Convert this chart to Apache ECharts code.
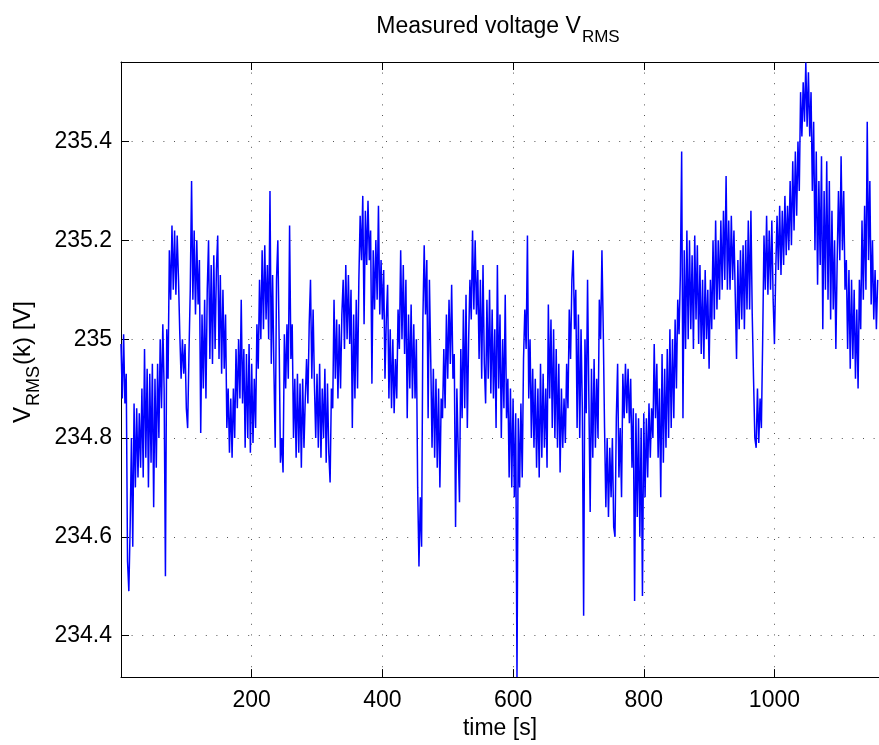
<!DOCTYPE html>
<html>
<head>
<meta charset="utf-8">
<script src="https://cdn.jsdelivr.net/npm/echarts@6/dist/echarts.min.js"></script>
<style>
html,body{margin:0;padding:0;background:#fff;}
#chart{width:879px;height:745px;}
</style>
</head>
<body>
<div id="chart"></div>
<script>
// Sampling step of the trace (seconds)
const stepSeconds = 2;
// Measured RMS voltage samples [V] (one per stepSeconds, from t = 0)
const voltage = [
 234.99,234.88,235.01,234.87,234.93,234.55,234.49,234.62,234.80,234.58,234.87,234.70,234.86,234.72,234.85,
 234.74,234.90,234.72,234.98,234.76,234.94,234.70,234.93,234.75,234.95,234.66,234.92,234.74,234.95,234.80,
 235.00,234.86,235.03,234.90,234.52,235.02,234.92,235.18,235.08,235.23,235.10,235.22,235.09,235.21,235.12,
 235.01,234.92,235.00,234.93,234.99,234.86,234.82,234.97,235.10,235.32,235.08,235.22,235.05,235.20,235.07,
 235.16,234.81,235.05,234.90,235.08,234.88,235.10,235.20,234.96,235.15,234.95,235.17,234.98,235.14,235.21,
 234.96,235.13,234.93,235.10,234.94,235.05,234.82,234.90,234.77,234.88,234.76,234.90,234.80,234.98,234.86,
 235.00,234.88,235.08,234.87,234.98,234.78,234.97,234.80,234.99,234.77,234.95,234.79,234.92,234.82,235.03,
 234.94,235.12,235.00,235.18,235.02,235.19,235.04,235.15,235.00,235.30,234.95,235.13,234.94,234.78,235.12,
 235.20,235.00,234.75,234.80,234.73,235.01,234.90,235.03,234.92,235.23,234.96,235.03,234.80,234.92,234.76,
 234.93,234.77,234.91,234.74,234.92,234.78,234.88,234.96,234.87,235.03,235.12,234.92,235.06,234.91,234.80,
 234.93,234.78,234.95,234.76,234.90,234.80,234.94,234.75,234.91,234.77,234.71,234.90,234.86,235.08,234.92,
 235.04,234.88,235.03,234.90,235.05,235.12,234.98,235.15,235.00,235.13,234.99,235.10,234.82,235.05,234.88,
 235.08,234.90,235.12,235.25,235.16,235.29,235.03,235.26,235.15,235.28,235.16,235.22,234.91,235.18,235.06,
 235.20,235.08,235.27,235.05,235.16,235.04,235.14,234.92,235.04,235.11,234.88,235.02,234.86,235.00,234.85,
 234.96,234.88,235.06,234.98,235.18,235.00,235.15,234.97,235.12,234.84,235.05,234.90,235.07,234.88,235.03,
 234.88,235.00,234.70,234.54,234.68,234.58,235.04,235.19,235.05,235.16,234.84,235.12,234.96,234.78,234.94,
 234.76,234.92,234.74,234.90,234.70,234.88,234.84,234.98,234.86,235.05,234.92,235.08,234.95,235.11,234.92,
 234.97,234.62,234.90,234.78,234.67,234.98,234.84,235.06,234.86,235.09,234.82,235.00,235.12,235.04,235.22,
 235.06,235.20,235.05,235.14,234.96,235.12,234.92,235.15,234.95,234.87,235.08,234.92,235.10,234.89,235.06,
 234.88,235.02,234.82,235.15,234.90,235.05,234.80,235.00,234.86,235.09,234.84,234.92,234.72,234.90,234.70,
 234.88,234.68,234.85,234.316,234.84,234.70,234.87,234.72,234.96,235.06,234.98,235.21,234.88,235.00,234.80,
 234.94,234.78,234.92,234.74,234.90,234.72,234.95,234.76,234.93,234.78,234.90,234.74,235.07,234.88,235.04,
 234.82,235.02,234.80,234.98,234.78,234.95,234.73,234.90,234.78,234.88,234.79,234.95,234.86,235.06,234.96,
 235.12,235.18,235.02,235.10,234.82,235.05,234.80,235.02,234.86,234.44,235.00,234.85,235.12,234.88,234.65,
 234.94,234.76,234.96,234.78,234.92,234.80,235.08,235.00,235.18,235.02,234.82,234.66,234.80,234.64,234.78,
 234.68,234.80,234.62,234.60,234.84,234.95,234.72,234.82,234.68,234.93,234.84,234.95,234.85,234.94,234.83,
 234.92,234.74,234.86,234.47,234.85,234.64,234.84,234.60,234.82,234.48,234.85,234.68,234.84,234.72,234.87,
 234.76,234.86,234.80,234.99,234.84,234.95,234.76,234.90,234.68,234.97,234.75,234.94,234.78,234.98,234.80,
 235.02,234.82,235.00,234.84,235.04,234.90,235.08,235.01,235.13,235.38,234.84,235.18,234.98,235.22,235.00,
 235.20,235.02,235.17,234.98,235.21,235.04,235.19,234.99,235.15,234.97,235.12,234.96,235.14,235.00,235.10,
 234.94,235.12,235.02,235.20,235.04,235.24,235.06,235.20,235.08,235.24,235.10,235.26,235.12,235.33,235.10,
 235.24,235.10,235.25,235.12,235.22,235.09,234.96,235.16,235.02,235.18,235.04,235.19,235.02,235.20,235.06,
 235.24,235.06,235.26,235.05,234.92,234.80,234.78,234.90,234.79,234.88,234.82,235.00,235.21,235.10,235.25,
 235.09,235.22,235.10,235.24,235.08,234.99,235.14,235.25,235.14,235.27,235.13,235.26,235.15,235.29,235.17,
 235.27,235.18,235.32,235.19,235.36,235.22,235.38,235.25,235.40,235.30,235.50,235.41,235.52,235.44,235.56,
 235.43,235.54,235.41,235.50,235.30,235.44,235.18,235.38,235.11,235.32,235.15,235.37,235.02,235.30,235.10,
 235.36,235.08,235.32,235.04,235.26,235.06,235.20,234.98,235.16,235.30,235.16,235.37,235.18,235.30,235.10,
 235.16,234.98,235.14,234.94,235.12,234.96,235.10,234.92,235.06,234.90,235.12,235.02,235.24,235.08,235.27,
 235.10,235.44,235.16,235.32,235.07,235.20,235.04,235.14,235.02,235.12
];
const xRange = [0, 1160];
const yRange = [234.316, 235.561];
const titleMain = 'Measured voltage V';
const titleSub = 'RMS';
const xName = 'time [s]';
const yNameMain = 'V';
const yNameSub = 'RMS';
const yNameTail = '(k) [V]';

const FF = '"Liberation Sans", Arial, Helvetica, sans-serif';
const seriesData = voltage.map((v, i) => [i * stepSeconds, v]);

const chart = echarts.init(document.getElementById('chart'), null, {renderer: 'canvas'});
const gridDots = {show: true, lineStyle: {color: '#555', width: 1, type: [1, 9.6]}};
const richTitle = {
  a: {fontSize: 23, fontFamily: FF, fill: '#000', lineHeight: 26, verticalAlign: 'top'},
  b: {fontSize: 17, fontFamily: FF, fill: '#000', lineHeight: 18, verticalAlign: 'top', padding: [14, 0, 0, 1]}
};
const richYName = {
  a: {fontSize: 24, fontFamily: FF, fill: '#000', lineHeight: 27, verticalAlign: 'top'},
  b: {fontSize: 18, fontFamily: FF, fill: '#000', lineHeight: 19, verticalAlign: 'top', padding: [14, 1, 0, 1]}
};
chart.setOption({
  animation: false,
  backgroundColor: '#fff',
  grid: {left: 121, right: -6, top: 62, bottom: 67, containLabel: false},
  xAxis: [{
    type: 'value', min: xRange[0], max: xRange[1], position: 'bottom',
    name: xName, nameLocation: 'middle', nameGap: 36,
    nameTextStyle: {fontSize: 23, fontFamily: FF, color: '#000'},
    axisLine: {show: true, onZero: false, lineStyle: {color: '#000', width: 1}},
    axisTick: {show: true, inside: true, length: 8, lineStyle: {color: '#000'}},
    axisLabel: {fontSize: 23, fontFamily: FF, color: '#000', margin: 12, showMinLabel: false, showMaxLabel: false,
      formatter: v => String(Math.round(v))},
    splitLine: gridDots
  }, {
    type: 'value', min: xRange[0], max: xRange[1], position: 'top',
    axisLine: {show: true, onZero: false, lineStyle: {color: '#000', width: 1}},
    axisTick: {show: true, inside: true, length: 8, lineStyle: {color: '#000'}},
    axisLabel: {show: false},
    splitLine: {show: false}
  }],
  yAxis: [{
    type: 'value', min: yRange[0], max: yRange[1], splitNumber: 6,
    axisLine: {show: true, onZero: false, lineStyle: {color: '#000', width: 1}},
    axisTick: {show: true, inside: true, length: 8, lineStyle: {color: '#000'}},
    axisLabel: {fontSize: 23, fontFamily: FF, color: '#000', margin: 9, showMinLabel: false, showMaxLabel: false,
      formatter: v => String(+v.toFixed(1))},
    splitLine: gridDots
  }],
  series: [{
    type: 'line', data: seriesData, showSymbol: false, symbol: 'none',
    lineStyle: {color: '#0000ff', width: 1.5}, clip: true
  }],
  graphic: [
    {
      type: 'text', x: 498, y: 15,
      style: {
        text: '{a|' + titleMain + '}{b|' + titleSub + '}',
        align: 'center', verticalAlign: 'top', rich: richTitle
      }
    },
    {
      type: 'text', x: 25, y: 362, rotation: Math.PI / 2,
      style: {
        text: '{a|' + yNameMain + '}{b|' + yNameSub + '}{a|' + yNameTail + '}',
        align: 'center', verticalAlign: 'middle', rich: richYName
      }
    }
  ]
});
</script>
</body>
</html>
